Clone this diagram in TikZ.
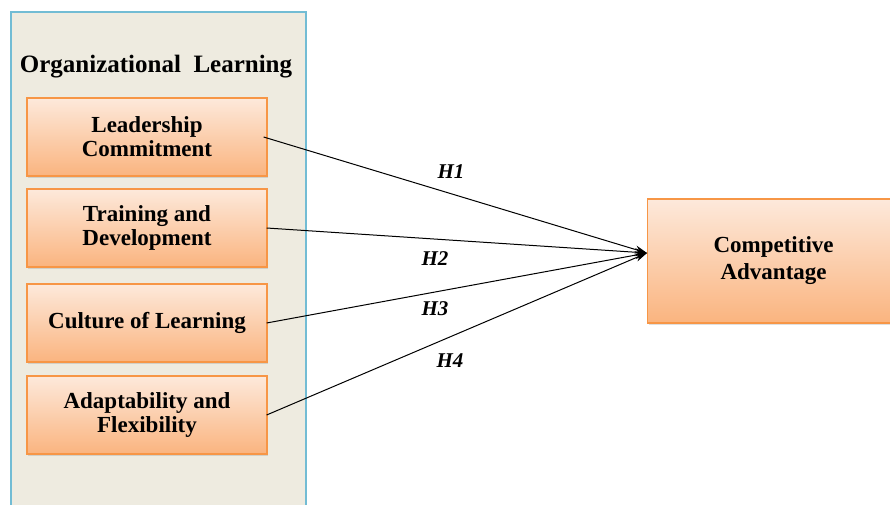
\documentclass[tikz,border=0pt]{standalone}
\usepackage{fontspec}
\setmainfont{Liberation Serif}
\usetikzlibrary{arrows.meta,shadows}
\definecolor{panelfill}{HTML}{EEEBE0}
\definecolor{panelline}{HTML}{72BCD4}
\definecolor{boxtop}{HTML}{FDE9DB}
\definecolor{boxbot}{HTML}{FAB47F}
\definecolor{boxline}{HTML}{F79646}
\tikzset{
	factor/.style = {draw = boxline, line width = 1.2pt, top color = boxtop, bottom color = boxbot,
		minimum width = 240pt, minimum height = 78pt, align = center, inner sep = 0pt,
		font = \fontsize{23}{24}\selectfont\bfseries,
		drop shadow = {opacity = 0.25, shadow xshift = 1pt, shadow yshift = -1.5pt}},
	hyp/.style = {-{Stealth[length = 12pt, width = 8pt]}, line width = 1pt},
	hlabel/.style = {font = \fontsize{21}{22}\selectfont\bfseries\itshape}
}
\begin{document}
\begin{tikzpicture}[x = 1pt, y = -1pt]
	\useasboundingbox (0,0) rectangle (890,505);
	\fill[white] (0,0) rectangle (890,505);
	\draw[panelline, fill = panelfill, line width = 1.2pt] (11,12) rectangle (306,530);
	\node[font = \fontsize{25}{26}\selectfont\bfseries] (title) at (156,67) {Organizational~~Learning};

	\node[factor] (lead)  at (147,137) {Leadership\\Commitment};
	\node[factor] (train) at (147,228) {Training and\\Development};
	\node[factor] (cult)  at (147,323) {Culture of Learning};
	\node[factor] (adapt) at (147,415) {Adaptability and\\Flexibility};

	\node[factor, minimum width = 252pt, minimum height = 124pt, anchor = west,
		font = \fontsize{23}{27}\selectfont\bfseries] (comp) at (647,261) {Competitive\\Advantage};
	\coordinate (tip) at (647,253);

	\draw[hyp] ([xshift = -4pt]lead.east)  -- (tip);
	\draw[hyp] ([xshift = -1pt]train.east) -- (tip);
	\draw[hyp] ([xshift = -1pt]cult.east)  -- (tip);
	\draw[hyp] ([xshift = -1pt]adapt.east) -- (tip);

	\node[hlabel] (h1) at (451,172) {H1};
	\node[hlabel] (h2) at (435,259) {H2};
	\node[hlabel] (h3) at (435,309) {H3};
	\node[hlabel] (h4) at (450,361) {H4};

\end{tikzpicture}
\end{document}
